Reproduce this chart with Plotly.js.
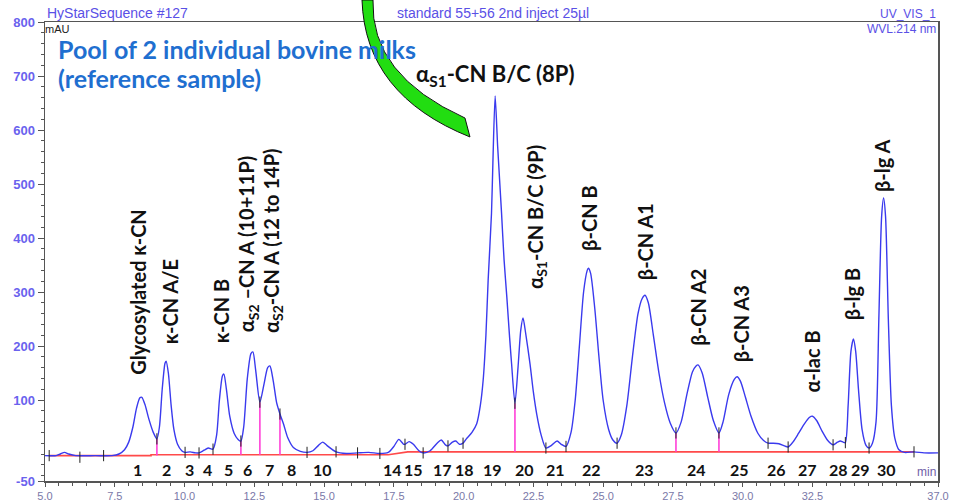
<!DOCTYPE html>
<html>
<head>
<meta charset="utf-8">
<script src="https://cdn.plot.ly/plotly-3.0.1.min.js"></script>
<style>html,body{margin:0;padding:0;background:#fff;}#chart{width:953px;height:504px;}</style>
</head>
<body>
<div id="chart"></div>
<script>
// Chromatogram (retention time in min, absorbance in mAU)
const timeMin = [5.00,5.40,5.55,5.70,5.85,6.10,6.80,7.40,7.65,7.85,8.00,8.15,8.28,8.40,8.47,8.58,8.72,8.88,9.01,9.10,9.20,9.30,9.34,9.42,9.52,9.62,9.75,9.90,10.02,10.20,10.40,10.52,10.70,10.85,11.02,11.15,11.25,11.36,11.41,11.50,11.62,11.78,11.92,12.02,12.12,12.25,12.38,12.45,12.55,12.70,12.85,12.98,13.06,13.18,13.30,13.42,13.55,13.70,13.90,14.15,14.39,14.60,14.80,14.95,15.10,15.43,15.80,16.20,16.60,17.00,17.30,17.50,17.68,17.85,17.90,18.05,18.20,18.40,18.55,18.80,19.05,19.20,19.35,19.44,19.60,19.72,19.85,19.98,20.10,20.30,20.47,20.60,20.70,20.80,20.88,21.00,21.05,21.13,21.22,21.36,21.45,21.55,21.65,21.72,21.84,21.95,22.05,22.13,22.22,22.38,22.50,22.62,22.78,22.95,23.15,23.35,23.50,23.67,23.85,24.00,24.15,24.30,24.43,24.47,24.55,24.70,24.85,25.00,25.20,25.35,25.50,25.65,25.85,26.05,26.25,26.40,26.50,26.62,26.80,27.00,27.20,27.40,27.61,27.80,28.00,28.20,28.33,28.40,28.55,28.75,28.95,29.15,29.30,29.50,29.70,29.80,29.92,30.10,30.30,30.55,30.75,30.91,31.10,31.30,31.50,31.63,31.80,32.00,32.20,32.40,32.50,32.65,32.85,33.05,33.24,33.40,33.50,33.60,33.68,33.78,33.88,33.97,34.05,34.15,34.28,34.42,34.53,34.65,34.78,34.88,34.98,35.05,35.12,35.22,35.33,35.45,35.60,35.80,36.14,36.50,37.00];
const signalMAU = [-3,-3,0,3,0,-3,-3,-3,0,8,22,50,85,104,105,92,65,40,28,50,120,168,172,150,90,45,18,6,3,4,2,2,7,11,9,35,100,145,148,120,70,38,27,24,50,140,186,189,155,96,130,160,163,135,95,74,55,30,12,5,3,6,16,22,16,4,1,2,3,1,3,14,27,18,18,23,18,6,2,6,20,26,17,15,22,24,18,20,28,40,56,90,136,220,322,446,540,663,570,446,360,290,215,167,94,160,230,252,225,167,115,74,35,11,16,24,18,14,40,100,200,300,340,344,335,270,180,100,45,26,20,35,90,180,260,288,294,280,220,150,95,58,39,60,110,152,163,165,150,105,62,39,60,110,138,143,135,105,70,38,25,20,20,19,15,13,22,38,55,68,70,62,42,25,17,22,24,22,21,90,190,213,190,120,45,16,11,20,60,250,440,474,440,250,90,30,8,3,4,2,2];

// Integration baseline
const baseT = [5.15, 8.80, 8.80, 17.30, 18.00, 36.14];
const baseV = [-3, -3, -1.5, -1.5, 4, 4];

// Drop lines between unresolved peaks
const dropT = [9.01, 12.02, 12.70, 13.42, 21.84, 27.61, 29.15];
const dropTop = [28, 24, 96, 74, 94, 39, 39];
const dropBase = [-3, -1.5, -1.5, -1.5, 4, 4, 4];

// Peak start/end markers
const markT = [5.15,6.25,7.10,9.01,10.02,10.52,11.02,12.02,12.70,13.42,14.39,15.43,16.20,17.00,17.90,18.55,19.44,19.98,21.84,22.95,23.67,25.50,27.61,29.15,30.91,31.63,33.24,33.68,34.53,36.14];
const markV = [-3,-6,-3,28,3,2,9,24,96,74,3,4,2,1,18,2,15,20,94,11,14,20,39,39,20,13,17,21,11,4];

// Peak numbers
const peakNum = ["1","2","3","4","5","6","7","8","10","14","15","17","18","19","20","21","22","23","24","25","26","27","28","29","30"];
const peakNumT = [8.33,9.37,10.16,10.81,11.56,12.27,13.03,13.85,14.93,17.45,18.22,19.26,20.05,21.02,22.20,23.31,24.57,26.50,28.36,29.87,31.23,32.34,33.45,34.24,35.17];

// Protein labels
const protLabel = ["Glycosylated κ-CN","κ-CN A/E","κ-CN B","α<sub>S2</sub> –CN A (10+11P)","α<sub>S2</sub>-CN A (12 to 14P)","α<sub>S1</sub>-CN B/C (8P)","α<sub>S1</sub>-CN B/C (9P)","β-CN B","β-CN A1","β-CN A2","β-CN A3","α-lac B","β-lg B","β-lg A"];
const protT = [8.30,9.48,11.34,12.27,13.13,21.13,22.63,24.49,26.50,28.40,29.94,32.48,33.92,34.99];
const protV = [299,281,264,390,396,701,439,437,394,271,242,171,296,535];
const protAngle = [-90,-90,-90,-90,-90,0,-90,-90,-90,-90,-90,-90,-90,-90];

// Axis ticks
const xTickVals = [5,7.5,10,12.5,15,17.5,20,22.5,25,27.5,30,32.5,37];
const xTickText = ["5.0","7.5","10.0","12.5","15.0","17.5","20.0","22.5","25.0","27.5","30.0","32.5","37.0"];
const yTickVals = [-50,100,200,300,400,500,600,700,800];
const yTickText = ["-50","100","200","300","400","500","600","700","800"];

const dropX = [], dropY = [];
dropT.forEach((t,i)=>{dropX.push(t,t,null); dropY.push(dropBase[i],dropTop[i],null);});

const traces = [
  {x: baseT, y: baseV, mode:'lines', line:{color:'#ff4a4a', width:1.6}, hoverinfo:'skip'},
  {x: dropX, y: dropY, mode:'lines', line:{color:'#ff40d8', width:1.6}, hoverinfo:'skip'},
  {x: timeMin, y: signalMAU, mode:'lines', line:{color:'#3a3aee', width:1.4, shape:'spline', smoothing:0.7}},
  {x: markT, y: markV, mode:'markers', marker:{symbol:'line-ns', size:8, line:{color:'#222', width:1}}, hoverinfo:'skip'}
];

const annotations = [];
const numFont = {family:'Lato, Open Sans, sans-serif', size:16, color:'#111', weight:700};
peakNum.forEach((n,i)=>annotations.push({x:peakNumT[i], y:-28, xref:'x', yref:'y', text:n, showarrow:false, font:numFont}));
protLabel.forEach((s,i)=>annotations.push({x:protT[i], y:protV[i], xref:'x', yref:'y', text:s, showarrow:false, textangle:protAngle[i],
  font:{family:'Lato, Open Sans, sans-serif', size: protAngle[i]===0 ? 22 : 20, color:'#111', weight:700}}));

const hdr = {family:'Liberation Sans, Arial, sans-serif', size:14, color:'#5a50e6'};
const hdrR = {family:'Liberation Sans, Arial, sans-serif', size:12, color:'#5a50e6'};
annotations.push(
  {xref:'paper', yref:'paper', x:0, y:1, xanchor:'left', yanchor:'bottom', yshift:-1, text:'HyStarSequence #127', showarrow:false, font:hdr},
  {xref:'paper', yref:'paper', x:0.502, y:1, xanchor:'center', yanchor:'bottom', yshift:-1, text:'standard 55+56 2nd inject 25µl', showarrow:false, font:hdr},
  {xref:'paper', yref:'paper', x:1, y:1, xanchor:'right', yanchor:'bottom', yshift:-1, text:'UV_VIS_1', showarrow:false, font:hdrR},
  {xref:'paper', yref:'paper', x:1, y:1, xanchor:'right', yanchor:'top', yshift:2, text:'WVL:214 nm', showarrow:false, font:hdrR},
  {xref:'paper', yref:'paper', x:0, y:1, xanchor:'left', yanchor:'top', xshift:-2, yshift:1, text:'mAU', showarrow:false, font:{family:'Liberation Sans, Arial', size:11, color:'#222'}},
  {xref:'paper', yref:'paper', x:1, y:0, xanchor:'right', yanchor:'bottom', text:'min', showarrow:false, font:{family:'Liberation Sans, Arial', size:12, color:'#7060a8'}},
  {xref:'paper', yref:'paper', x:0.012, y:0.942, xanchor:'left', yanchor:'middle', align:'left', text:'Pool of 2 individual bovine milks', showarrow:false, font:{family:'Lato, Open Sans, sans-serif', size:25, color:'#1f6fd0', weight:700}},
  {xref:'paper', yref:'paper', x:0.012, y:0.877, xanchor:'left', yanchor:'middle', align:'left', text:'(reference sample)', showarrow:false, font:{family:'Lato, Open Sans, sans-serif', size:25, color:'#1f6fd0', weight:700}}
);

const layout = {
  width:953, height:504,
  margin:{l:45, r:15, t:22, b:23, pad:0},
  paper_bgcolor:'#fff', plot_bgcolor:'#fff',
  showlegend:false,
  xaxis:{range:[5,37], tickvals:xTickVals, ticktext:xTickText, ticks:'outside', ticklen:4, tickcolor:'#555', showgrid:false, zeroline:false,
    showline:true, linecolor:'#555', linewidth:1.5, mirror:true, automargin:false,
    tickfont:{family:'Liberation Sans, Arial', size:11, color:'#7a78a8'},
    minor:{tick0:5, dtick:0.5, ticks:'outside', ticklen:3, tickcolor:'#555'}},
  yaxis:{range:[-50,800], tickvals:yTickVals, ticktext:yTickText, ticks:'outside', ticklen:6, tickcolor:'#555', showgrid:false, zeroline:false,
    showline:true, linecolor:'#555', linewidth:1.5, mirror:true, automargin:false,
    tickfont:{family:'Liberation Sans, Arial', size:13, color:'#6a62ee', weight:700},
    minor:{tick0:0, dtick:20, ticks:'outside', ticklen:3, tickcolor:'#555'}},
  annotations: annotations,
  shapes:[{type:'path', xref:'paper', yref:'paper', layer:'above',
    path:'M 0.3550 1.0479 Q 0.3583 0.8410 0.4759 0.7495 L 0.4703 0.7908 Q 0.3639 0.8845 0.3673 1.0479 Z',
    fillcolor:'#22dd11', line:{color:'#111', width:1}}]
};

Plotly.newPlot('chart', traces, layout, {displayModeBar:false, staticPlot:true});
</script>
</body>
</html>
